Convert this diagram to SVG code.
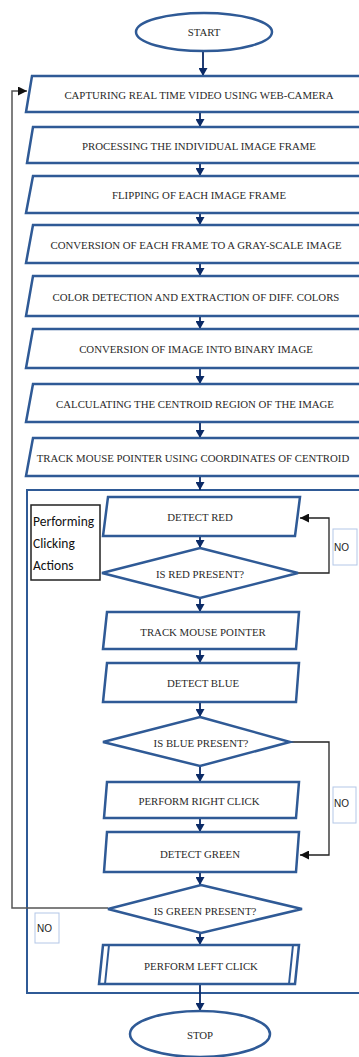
<svg xmlns="http://www.w3.org/2000/svg" width="359" height="1057" viewBox="0 0 359 1057">
<style>
.sh{fill:#fff;stroke:#2f5a96;stroke-width:2.5;stroke-linejoin:miter}
.t{font-family:"Liberation Serif",serif;font-size:10.8px;fill:#2a2a2a;text-anchor:middle;dominant-baseline:central}
.fl{stroke:#0b2a66;stroke-width:1.8;fill:none}
.lp{stroke:#222;stroke-width:1.3;fill:none}
.nb{fill:#fff;stroke:#b4c7e7;stroke-width:1}
.nt{font-family:"Liberation Sans",sans-serif;font-size:10px;fill:#222;dominant-baseline:central}
.ct{font-family:Carlito,"Liberation Sans",sans-serif;font-size:13.5px;fill:#111}
</style>
<defs>
<marker id="a" markerUnits="userSpaceOnUse" markerWidth="9" markerHeight="9" refX="8" refY="4.5" orient="auto"><path d="M0,0 L8,4.5 L0,9 z" fill="#0b2a66"/></marker>
<marker id="b" markerUnits="userSpaceOnUse" markerWidth="10" markerHeight="9" refX="9" refY="4.5" orient="auto"><path d="M0,0 L9,4.5 L0,9 z" fill="#111"/></marker>
</defs>
<rect width="359" height="1057" fill="#fff"/>
<g id="container"><rect x="27" y="490" width="360" height="503" fill="none" stroke="#2f5a96" stroke-width="2"/></g>
<g id="connectors">
<path class="fl" d="M203,52 V76" marker-end="url(#a)"/>
<path class="fl" d="M200,112 V127" marker-end="url(#a)"/>
<path class="fl" d="M200,163 V176" marker-end="url(#a)"/>
<path class="fl" d="M200,213 V225" marker-end="url(#a)"/>
<path class="fl" d="M200,263 V276" marker-end="url(#a)"/>
<path class="fl" d="M200,316 V329" marker-end="url(#a)"/>
<path class="fl" d="M200,368 V384" marker-end="url(#a)"/>
<path class="fl" d="M200,422 V438" marker-end="url(#a)"/>
<path class="fl" d="M200,476 V490" marker-end="url(#a)"/>
<path class="fl" d="M200,536 V548" marker-end="url(#a)"/>
<path class="fl" d="M200,598 V612" marker-end="url(#a)"/>
<path class="fl" d="M200,649 V663" marker-end="url(#a)"/>
<path class="fl" d="M200,702 V717" marker-end="url(#a)"/>
<path class="fl" d="M200,766 V782" marker-end="url(#a)"/>
<path class="fl" d="M200,818 V832" marker-end="url(#a)"/>
<path class="fl" d="M200,872 V885" marker-end="url(#a)"/>
<path class="fl" d="M200,933 V945" marker-end="url(#a)"/>
<path class="fl" d="M200,984 V1011" marker-end="url(#a)"/>
<path class="lp" d="M298,573 H329 V518 H300" marker-end="url(#b)"/>
<path class="lp" d="M290,742 H329 V855 H300" marker-end="url(#b)"/>
<path d="M108,908 H12 V91 H27" fill="none" stroke="#555" stroke-width="1.5" marker-end="url(#b)"/>
</g>
<g id="start"><ellipse class="sh" cx="204" cy="32" rx="68" ry="19"/><text class="t" x="204" y="32">START</text></g>
<g id="p1"><polygon class="sh" points="32,76 390,76 384,112 26,112"/><text class="t" x="199" y="95">CAPTURING REAL TIME VIDEO USING WEB-CAMERA</text></g>
<g id="p2"><polygon class="sh" points="33,127 390,127 384,163 27,163"/><text class="t" x="199" y="146">PROCESSING THE INDIVIDUAL IMAGE FRAME</text></g>
<g id="p3"><polygon class="sh" points="33,176 390,176 384,213 26,213"/><text class="t" x="199" y="195">FLIPPING OF EACH IMAGE FRAME</text></g>
<g id="p4"><polygon class="sh" points="33,225 390,225 384,263 26,263"/><text class="t" x="196" y="245">CONVERSION OF EACH FRAME TO A GRAY-SCALE IMAGE</text></g>
<g id="p5"><polygon class="sh" points="33,276 390,276 384,316 26,316"/><text class="t" x="196" y="297">COLOR DETECTION AND EXTRACTION OF DIFF. COLORS</text></g>
<g id="p6"><polygon class="sh" points="33,329 390,329 384,368 26,368"/><text class="t" x="196" y="349">CONVERSION OF IMAGE INTO BINARY IMAGE</text></g>
<g id="p7"><polygon class="sh" points="33,384 390,384 384,422 26,422"/><text class="t" x="195" y="404">CALCULATING THE CENTROID REGION OF THE IMAGE</text></g>
<g id="p8"><polygon class="sh" points="33,438 390,438 384,476 26,476"/><text class="t" x="193" y="458">TRACK MOUSE POINTER USING COORDINATES OF CENTROID</text></g>
<g id="label-actions"><rect x="31" y="505" width="69" height="75" fill="#fff" stroke="#222" stroke-width="1.5"/>
<text class="ct" x="33" y="526">Performing</text>
<text class="ct" x="33" y="548">Clicking</text>
<text class="ct" x="33" y="570">Actions</text></g>
<g id="detect-red"><polygon class="sh" points="108,497 300,497 295,536 103,536"/><text class="t" x="200" y="517">DETECT RED</text></g>
<g id="is-red"><polygon class="sh" points="200,548 298,573 200,598 102,573"/><text class="t" x="200" y="574">IS RED PRESENT?</text></g>
<g id="no1"><rect class="nb" x="333" y="529" width="24" height="36"/><text class="nt" x="334" y="547">NO</text></g>
<g id="track"><polygon class="sh" points="107,612 299,612 296,649 103,649"/><text class="t" x="203" y="632">TRACK MOUSE POINTER</text></g>
<g id="detect-blue"><polygon class="sh" points="107,663 299,663 296,702 103,702"/><text class="t" x="203" y="683">DETECT BLUE</text></g>
<g id="is-blue"><polygon class="sh" points="200,717 290,742 200,766 103,742"/><text class="t" x="201" y="743">IS BLUE PRESENT?</text></g>
<g id="no2"><rect class="nb" x="333" y="787" width="23" height="36"/><text class="nt" x="334" y="803">NO</text></g>
<g id="right-click"><polygon class="sh" points="107,782 299,782 296,818 104,818"/><text class="t" x="199" y="801">PERFORM RIGHT CLICK</text></g>
<g id="detect-green"><polygon class="sh" points="107,832 299,832 296,872 104,872"/><text class="t" x="200" y="854">DETECT GREEN</text></g>
<g id="is-green"><polygon class="sh" points="201,885 302,909 201,933 108,909"/><text class="t" x="205" y="911">IS GREEN PRESENT?</text></g>
<g id="no3"><rect class="nb" x="35" y="913" width="24" height="30"/><text class="nt" x="37" y="928">NO</text></g>
<g id="left-click"><polygon class="sh" points="103,945 299,945 295,984 99,984"/><path d="M109,945 L105,984 M293,945 L289,984" stroke="#2f5a96" stroke-width="2" fill="none"/><text class="t" x="201" y="966">PERFORM LEFT CLICK</text></g>
<g id="stop"><ellipse class="sh" cx="200" cy="1034" rx="70" ry="23"/><text class="t" x="200" y="1035">STOP</text></g>
</svg>
